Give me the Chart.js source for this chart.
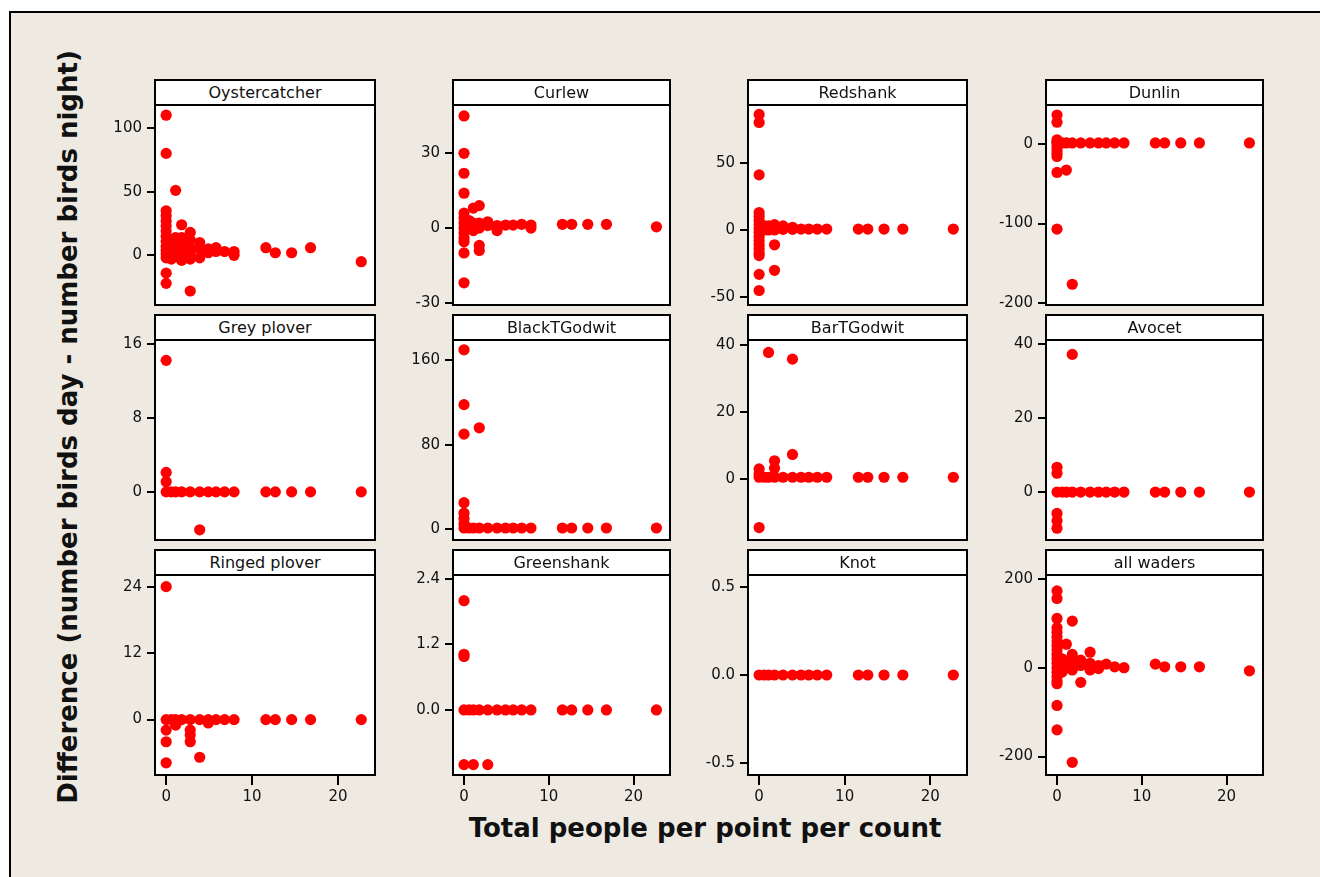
<!DOCTYPE html>
<html>
<head>
<meta charset="utf-8">
<script src="https://cdn.jsdelivr.net/npm/chart.js@4/dist/chart.umd.min.js"></script>
<style>
  body { margin: 0; background: #fff; width: 1320px; height: 877px; overflow: hidden; position: relative; font-family: "DejaVu Sans", sans-serif; }
  #frame { position: absolute; left: 9px; top: 11px; width: 1340px; height: 900px; background: #EEEAE1; border: 2px solid #000; }
  .strip { position: absolute; box-sizing: border-box; height: 27px; background: #fff; border: 2px solid #000; text-align: center; font-size: 16px; line-height: 23px; color: #111; z-index: 2; }
  canvas { position: absolute; z-index: 1; }
  #xtitle { position: absolute; left: 305px; width: 800px; top: 813px; text-align: center; font-weight: bold; font-size: 26px; color: #111; }
  #ytitle { position: absolute; left: -332px; width: 800px; top: 410px; height: 34px; line-height: 34px; text-align: center; font-weight: bold; font-size: 26px; color: #111; transform: rotate(-90deg); transform-origin: 50% 50%; }
</style>
</head>
<body>
<div id="frame"></div>
<div id="xtitle">Total people per point per count</div>
<div id="ytitle">Difference (number birds day - number birds night)</div>
<script>
'use strict';

// Panel names, in reading order (3 rows x 4 columns)
var species = ['Oystercatcher', 'Curlew', 'Redshank', 'Dunlin',
  'Grey plover', 'BlackTGodwit', 'BarTGodwit', 'Avocet',
  'Ringed plover', 'Greenshank', 'Knot', 'all waders'];

// [people per point, difference]
var oystercatcher = [[0, 110], [0, 80], [0, 35], [0, 31], [0, 27], [0, 23], [0, 19], [0, 15], [0, 11], [0, 7], [0, 4], [0, 1],
  [0, -2], [0, -14], [0, -22], [0.6, 12], [0.6, 6], [0.6, 1], [0.6, -3], [1.1, 51], [1.1, 14], [1.1, 8], [1.1, 3], [1.1, -1],
  [1.8, 24], [1.8, 14], [1.8, 8], [1.8, 2], [1.8, -4], [2.8, 18], [2.8, 12], [2.8, 6], [2.8, 1], [2.8, -3], [2.8, -28],
  [3.9, 10], [3.9, 5], [3.9, -2], [4.9, 5], [4.9, 2], [5.8, 6], [5.8, 3], [6.8, 3], [7.9, 3], [7.9, 0],
  [11.6, 6], [12.7, 2], [14.6, 2], [16.8, 6], [22.7, -5]];
var curlew = [[0, 45], [0, 30], [0, 22], [0, 14], [0, 6], [0, 4], [0, 2], [0, 0], [0, -2], [0, -4], [0, -5.5], [0, -10], [0, -22],
  [0.6, 3], [0.6, 0], [1.1, 8], [1.1, 2], [1.1, -1], [1.8, 9], [1.8, 2], [1.8, 0], [1.8, -7], [1.8, -9],
  [2.8, 2.5], [2.8, 1], [3.9, -1], [3.9, 1], [4.9, 1.2], [5.8, 1.2], [6.8, 1.5], [7.9, 1.2], [7.9, 0],
  [11.6, 1.5], [12.7, 1.5], [14.6, 1.5], [16.8, 1.5], [22.7, 0.5]];
var redshank = [[0, 86], [0, 80], [0, 41], [0, 13], [0, 10], [0, 7], [0, 4], [0, 1], [0, -2], [0, -5], [0, -8], [0, -11],
  [0, -14], [0, -17], [0, -19], [0, -33], [0, -45], [0.6, 3], [0.6, 0], [1.1, 3], [1.1, 0], [1.8, 4], [1.8, 0], [1.8, -11],
  [1.8, -30], [2.8, 3], [2.8, 0.5], [3.9, 2], [3.9, 0.5], [4.9, 0.7], [5.8, 0.7], [6.8, 0.7], [7.9, 0.7],
  [11.6, 0.7], [12.7, 0.7], [14.6, 0.7], [16.8, 0.7], [22.7, 0.7]];
var dunlin = [[0, 36], [0, 27], [0, 5], [0, 2], [0, 0], [0, -4], [0, -8], [0, -12], [0, -16], [0, -36], [0, -107],
  [0.6, 1], [1.1, 1], [1.1, -33], [1.8, 1], [1.8, -176], [2.8, 1], [3.9, 1], [4.9, 1], [5.8, 1], [6.8, 1], [7.9, 1],
  [11.6, 1], [12.7, 1], [14.6, 1], [16.8, 1], [22.7, 1]];
var greyPlover = [[0, 14.2], [0, 2.1], [0, 1.1], [0, 0], [0.6, 0], [1.1, 0], [1.8, 0], [2.8, 0], [3.9, 0], [3.9, -4.1],
  [4.9, 0], [5.8, 0], [6.8, 0], [7.9, 0], [11.6, 0], [12.7, 0], [14.6, 0], [16.8, 0], [22.7, 0]];
var blackTGodwit = [[0, 170], [0, 118], [0, 90], [0, 25], [0, 15], [0, 10], [0, 5], [0, 1], [0.6, 1], [1.1, 1], [1.8, 96],
  [1.8, 1], [2.8, 1], [3.9, 1], [4.9, 1], [5.8, 1], [6.8, 1], [7.9, 1], [11.6, 1], [12.7, 1], [14.6, 1], [16.8, 1], [22.7, 1]];
var barTGodwit = [[0, 3], [0, 1.5], [0, 0.5], [0, -14.5], [0.6, 0.5], [1.1, 37.7], [1.1, 0.5], [1.8, 5.4], [1.8, 3.2],
  [1.8, 0.5], [2.8, 0.5], [3.9, 35.7], [3.9, 7.3], [3.9, 0.5], [4.9, 0.5], [5.8, 0.5], [6.8, 0.5], [7.9, 0.5],
  [11.6, 0.5], [12.7, 0.5], [14.6, 0.5], [16.8, 0.5], [22.7, 0.5]];
var avocet = [[0, 6.7], [0, 5.1], [0, 0], [0, -5.8], [0, -7.8], [0, -9.8], [0.6, 0], [1.1, 0], [1.8, 37.3], [1.8, 0],
  [2.8, 0], [3.9, 0], [4.9, 0], [5.8, 0], [6.8, 0], [7.9, 0], [11.6, 0], [12.7, 0], [14.6, 0], [16.8, 0], [22.7, 0]];
var ringedPlover = [[0, 24], [0, 0], [0, -1.9], [0, -4], [0, -7.8], [0.6, 0], [1.1, 0], [1.1, -1], [1.8, 0], [2.8, 0],
  [2.8, -1.9], [2.8, -2.8], [2.8, -4], [3.9, 0], [3.9, -6.8], [4.9, 0], [4.9, -0.6], [5.8, 0], [6.8, 0], [7.9, 0],
  [11.6, 0], [12.7, 0], [14.6, 0], [16.8, 0], [22.7, 0]];
var greenshank = [[0, 2], [0, 1.02], [0, 0.98], [0, 0], [0, -1], [0.6, 0], [1.1, 0], [1.1, -1], [1.8, 0], [2.8, 0], [2.8, -1],
  [3.9, 0], [4.9, 0], [5.8, 0], [6.8, 0], [7.9, 0], [11.6, 0], [12.7, 0], [14.6, 0], [16.8, 0], [22.7, 0]];
var knot = [[0, 0], [0.6, 0], [1.1, 0], [1.8, 0], [2.8, 0], [3.9, 0], [4.9, 0], [5.8, 0], [6.8, 0], [7.9, 0],
  [11.6, 0], [12.7, 0], [14.6, 0], [16.8, 0], [22.7, 0]];
var allWaders = [[0, 173], [0, 156], [0, 111], [0, 90], [0, 80], [0, 70], [0, 60], [0, 50], [0, 40], [0, 30], [0, 20],
  [0, 10], [0, 0], [0, -10], [0, -20], [0, -30], [0, -36], [0, -85], [0, -140], [0.6, 20], [0.6, 5], [0.6, -10],
  [1.1, 53], [1.1, 15], [1.1, 0], [1.8, 105], [1.8, 30], [1.8, 20], [1.8, 8], [1.8, -5], [1.8, -213],
  [2.8, 17], [2.8, 5], [2.8, -33], [3.9, 35], [3.9, 10], [3.9, 0], [3.9, -5], [4.9, 5], [4.9, -2], [5.8, 8], [6.8, 2],
  [7.9, 0], [11.6, 8], [12.7, 2], [14.6, 2], [16.8, 2], [22.7, -7]];

var panelData = [oystercatcher, curlew, redshank, dunlin, greyPlover, blackTGodwit,
  barTGodwit, avocet, ringedPlover, greenshank, knot, allWaders];

// y axis ticks and limits per panel
var yTicks = [[0, 50, 100], [-30, 0, 30], [-50, 0, 50], [-200, -100, 0],
  [0, 8, 16], [0, 80, 160], [0, 20, 40], [0, 20, 40],
  [0, 12, 24], [0, 1.2, 2.4], [-0.5, 0, 0.5], [-200, 0, 200]];
var yDecimals = [0, 0, 0, 0, 0, 0, 0, 0, 0, 1, 1, 0];
var yMin = [-39, -30.9, -55.8, -202, -5.2, -10.4, -18.2, -13, -10, -1.19, -0.57, -241.6];
var yMax = [118, 49.4, 93, 48.5, 16.4, 179.3, 41.4, 41.2, 26.1, 2.47, 0.57, 208.8];
var xTicks = [0, 10, 20];
var xMin = -1.3, xMax = 24.3;

// Layout of the plot boxes
var colLeft = [155, 453, 748, 1046];
var colWidth = [220, 217, 219, 217];
var rowTop = [105, 340, 575];
var plotHeight = 200;
var yAxisWidth = 60;
var xAxisHeight = 40;
var topRoom = 12; // canvas space above the plot box, so top tick labels are not cut

var tickFont = { family: 'DejaVu Sans', size: 15 };

// White plot area with a black box around it
var framePlugin = {
  id: 'frame',
  beforeDraw: function (chart) {
    var a = chart.chartArea, ctx = chart.ctx;
    ctx.save();
    ctx.fillStyle = '#fff';
    ctx.fillRect(a.left, a.top, a.right - a.left, a.bottom - a.top);
    ctx.restore();
  },
  afterDraw: function (chart) {
    var a = chart.chartArea, ctx = chart.ctx;
    ctx.save();
    ctx.strokeStyle = '#000';
    ctx.lineWidth = 2;
    ctx.strokeRect(a.left, a.top, a.right - a.left, a.bottom - a.top);
    ctx.restore();
  }
};

function makePanel(i) {
  var row = Math.floor(i / 4), col = i % 4;
  var bottomRow = row === 2;
  var w = colWidth[col];
  var cw = yAxisWidth + w + 3;
  var ch = topRoom + plotHeight + (bottomRow ? xAxisHeight : 12);

  var strip = document.createElement('div');
  strip.className = 'strip';
  strip.style.left = (colLeft[col] - 1) + 'px';
  strip.style.top = (rowTop[row] - 26) + 'px';
  strip.style.width = (w + 2) + 'px';
  strip.textContent = species[i];
  document.body.appendChild(strip);

  var canvas = document.createElement('canvas');
  canvas.width = cw;
  canvas.height = ch;
  canvas.style.width = cw + 'px';
  canvas.style.height = ch + 'px';
  canvas.style.left = (colLeft[col] - yAxisWidth) + 'px';
  canvas.style.top = (rowTop[row] - topRoom) + 'px';
  document.body.appendChild(canvas);

  var dec = yDecimals[i];
  new Chart(canvas.getContext('2d'), {
    type: 'scatter',
    data: {
      datasets: [{
        data: panelData[i].map(function (p) { return { x: p[0], y: p[1] }; }),
        backgroundColor: '#FF0000',
        pointRadius: 5.6,
        pointBorderWidth: 0,
        clip: false
      }]
    },
    options: {
      responsive: false,
      animation: false,
      events: [],
      layout: {
        autoPadding: false,
        padding: { left: 0, top: topRoom, right: 3, bottom: bottomRow ? 0 : 12 }
      },
      plugins: { legend: { display: false }, tooltip: { enabled: false } },
      scales: {
        x: {
          type: 'linear',
          min: xMin,
          max: xMax,
          display: bottomRow,
          afterBuildTicks: function (s) { s.ticks = xTicks.map(function (v) { return { value: v }; }); },
          afterFit: function (s) {
            s.height = bottomRow ? xAxisHeight : 0;
            s.paddingLeft = 0;
            s.paddingRight = 0;
          },
          border: { display: false },
          grid: { drawOnChartArea: false, drawTicks: true, tickLength: 10, color: '#000', lineWidth: 2 },
          ticks: { font: tickFont, color: '#111', padding: 3, autoSkip: false, maxRotation: 0,
            callback: function (v) { return String(v); } }
        },
        y: {
          type: 'linear',
          min: yMin[i],
          max: yMax[i],
          afterBuildTicks: function (s) { s.ticks = yTicks[i].map(function (v) { return { value: v }; }); },
          afterFit: function (s) {
            s.width = yAxisWidth;
            s.paddingTop = 0;
            s.paddingBottom = 0;
          },
          border: { display: false },
          grid: { drawOnChartArea: false, drawTicks: true, tickLength: 8, color: '#000', lineWidth: 2 },
          ticks: { font: tickFont, color: '#111', padding: 5, autoSkip: false,
            callback: function (v) { return v.toFixed(dec); } }
        }
      }
    },
    plugins: [framePlugin]
  });
}

for (var i = 0; i < species.length; i++) {
  makePanel(i);
}
</script>
</body>
</html>
